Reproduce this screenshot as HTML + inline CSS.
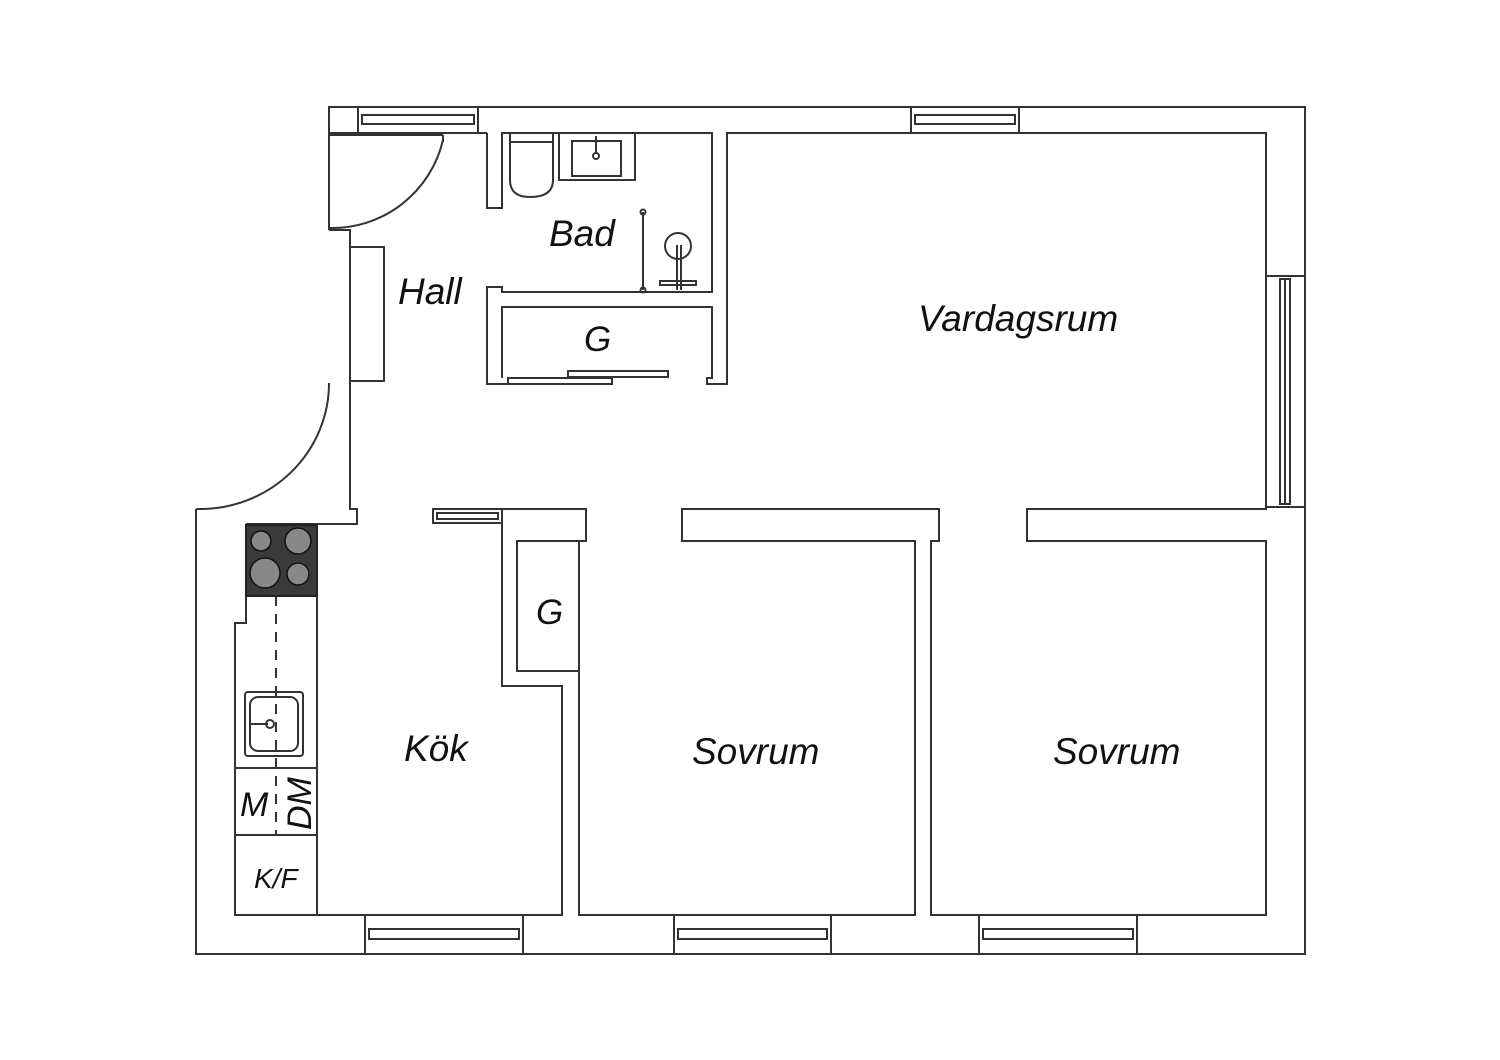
<!DOCTYPE html>
<html><head><meta charset="utf-8"><style>
html,body{margin:0;padding:0;background:#fff;}
svg{display:block;}
text{font-family:"Liberation Sans",sans-serif;font-style:italic;fill:#111;}
</style></head><body>
<svg width="1500" height="1060" viewBox="0 0 1500 1060" xmlns="http://www.w3.org/2000/svg">
<g fill="none" stroke="#333" stroke-width="2">
<!-- outer boundary -->
<polyline points="329,230 329,107 1305,107 1305,954 196,954 196,509"/>
<path d="M196,509 L200,509 A129,126 0 0 0 329,383"/>
<!-- top-left door -->
<line x1="329" y1="135" x2="443" y2="135"/>
<line x1="443" y1="135" x2="443" y2="142"/>
<path d="M443,140 A114,114 0 0 1 329,228"/>
<polyline points="329,230 350,230 350,509 357,509 357,524 246,524"/>
<!-- top windows -->
<rect x="358" y="107" width="120" height="26"/>
<rect x="362" y="115" width="112" height="9"/>
<rect x="911" y="107" width="108" height="26"/>
<rect x="915" y="115" width="100" height="9"/>
<!-- hall top inner -->
<line x1="329" y1="133" x2="487" y2="133"/>
<!-- wall hall/bad -->
<polyline points="487,133 487,208 502,208 502,133 712,133 712,292 502,292 502,287 487,287 487,384 508,384"/>
<!-- G closet -->
<polyline points="502,378 502,307 712,307 712,378 707,378 707,384 727,384 727,133 1266,133 1266,276"/>
<line x1="478" y1="133" x2="487" y2="133"/>
<rect x="508" y="378" width="104" height="6"/>
<rect x="568" y="371" width="100" height="6"/>
<!-- hall wardrobe -->
<rect x="350" y="247" width="34" height="134"/>
<!-- right window -->
<rect x="1266" y="276" width="39" height="231"/>
<rect x="1280" y="279" width="10" height="225"/>
<line x1="1285" y1="279" x2="1285" y2="504"/>
<!-- right inner -->
<polyline points="1266,507 1266,509 1027,509 1027,541 1266,541 1266,915 931,915 931,541 939,541 939,509 682,509 682,541 915,541 915,915 579,915 579,541 586,541 586,509 502,509 502,686 562,686 562,915 235,915 235,623 246,623 246,524"/>
<rect x="517" y="541" width="62" height="130"/>
<!-- kitchen top window -->
<rect x="433" y="509" width="69" height="14"/>
<rect x="437" y="513" width="61" height="6"/>
<!-- bottom windows -->
<rect x="365" y="915" width="158" height="39"/>
<rect x="369" y="929" width="150" height="10"/>
<rect x="674" y="915" width="157" height="39"/>
<rect x="678" y="929" width="149" height="10"/>
<rect x="979" y="915" width="158" height="39"/>
<rect x="983" y="929" width="150" height="10"/>
<!-- counter -->
<line x1="317" y1="596" x2="317" y2="915"/>
<line x1="235" y1="768" x2="317" y2="768"/>
<line x1="235" y1="835" x2="317" y2="835"/>
<line x1="276" y1="596" x2="276" y2="835" stroke-dasharray="10,8"/>
<rect x="245" y="692" width="58" height="64" rx="3"/>
<rect x="250" y="697" width="48" height="54" rx="8"/>
<line x1="250" y1="724" x2="268" y2="724"/>
<circle cx="270" cy="724" r="4"/>
<!-- bad fixtures -->
<path d="M510,133 V180 Q510,197 530,197 Q553,197 553,180 V133"/>
<line x1="510" y1="142" x2="553" y2="142"/>
<rect x="559" y="133" width="76" height="47"/>
<rect x="572" y="141" width="49" height="35"/>
<line x1="596" y1="136" x2="596" y2="154"/>
<circle cx="596" cy="156" r="3"/>
<line x1="643" y1="212" x2="643" y2="290"/>
<circle cx="643" cy="212" r="2.5"/>
<circle cx="643" cy="290" r="2.5"/>
<circle cx="678" cy="246" r="13"/>
<line x1="677" y1="245" x2="677" y2="290"/>
<line x1="681" y1="245" x2="681" y2="290"/>
<rect x="660" y="281" width="36" height="4"/>
</g>
<!-- stove -->
<rect x="246" y="525" width="71" height="71" fill="#3a3a3a" stroke="#222" stroke-width="2"/>
<g stroke="#111" stroke-width="1.5" fill="#888">
<circle cx="261" cy="541" r="10"/><circle cx="298" cy="541" r="13"/>
<circle cx="265" cy="573" r="15"/><circle cx="298" cy="574" r="11"/>
</g>
<!-- labels -->
<text x="549" y="246" font-size="37">Bad</text>
<text x="398" y="304" font-size="37">Hall</text>
<text x="584" y="351" font-size="35">G</text>
<text x="918" y="331" font-size="37">Vardagsrum</text>
<text x="536" y="624" font-size="35">G</text>
<text x="404" y="761" font-size="37">Kök</text>
<text x="692" y="764" font-size="37">Sovrum</text>
<text x="1053" y="764" font-size="37">Sovrum</text>
<text x="240" y="816" font-size="34">M</text>
<text x="254" y="888" font-size="28">K/F</text>
<text transform="translate(311,830) rotate(-90)" font-size="34">DM</text>
</svg>
</body></html>
